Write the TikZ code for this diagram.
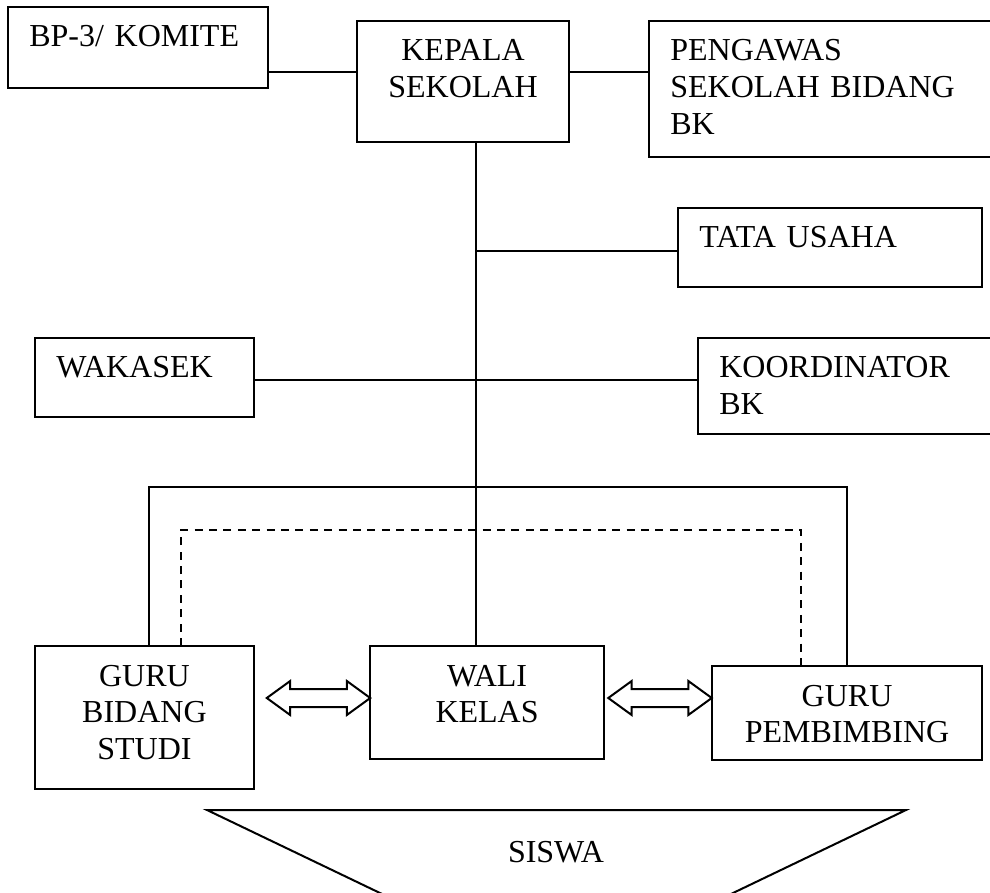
\documentclass[tikz,border=0pt]{standalone}
\usepackage{fontspec}
\setmainfont{Liberation Serif}
\usetikzlibrary{shapes.arrows, calc}

\begin{document}
\begin{tikzpicture}[
  x=0.375pt, y=-0.375pt,
  BX/.style={draw=black, line width=0.75pt, anchor=north west, inner xsep=8pt,
             inner ysep=0pt, outer sep=0pt, text height=15pt,
             font=\fontsize{12}{13.8}\selectfont},
  BL/.style={BX, align=left},
  BC/.style={BX, align=center},
  LN/.style={line width=0.75pt},
  DS/.style={line width=0.75pt, dash pattern=on 3pt off 2.4pt},
  DA/.style={double arrow, draw=black, line width=0.75pt, inner sep=3pt,
             minimum height=38.8pt, double arrow head extend=3pt,
             double arrow tip angle=72}
]
  \useasboundingbox (0,0) rectangle (990,893);

  % top row
  \node[BL, text width=81.5pt, text depth=15.4pt] (bp) at (8,7) {BP-3/ KOMITE};
  \node[BC, text width=63.5pt, text depth=30.4pt] (kep) at (357,21) {KEPALA\\SEKOLAH};
  \node[BL, text width=115.6pt, text depth=36pt] (pgw) at (649,21)
    {PENGAWAS\\SEKOLAH BIDANG\\BK};
  \node[BL, text width=98pt, text depth=14.6pt] (tu) at (678,208) {TATA USAHA};
  \node[BL, text width=66.1pt, text depth=14.6pt] (wks) at (35,338) {WAKASEK};
  \node[BL, text width=97.3pt, text depth=21pt] (kbk) at (698,338) {KOORDINATOR\\BK};

  % bottom row
  \node[BC, text width=66.1pt, text depth=38.6pt] (gbs) at (35,646) {GURU\\BIDANG\\STUDI};
  \node[BC, text width=71.8pt, text depth=27.4pt] (wk) at (370,646) {WALI\\KELAS};
  \node[BC, text width=85.3pt, text depth=20.3pt] (gp) at (712,666) {GURU\\PEMBIMBING};

  \foreach \n/\x in {arL/318.5, arR/660} \node[DA] (\n) at (\x,698) {};

  % siswa
  \draw[LN] (207,810) -- (906,810) -- (708,905) -- (405,905) -- cycle;
  \node[font=\fontsize{12}{13.8}\selectfont, anchor=base] (sw) at (556,862) {SISWA};

  % lines
  \coordinate (jtu) at (476,251);
  \draw[LN] (bp.east |- 0,72) -- (kep.west |- 0,72);
  \draw[LN] (kep.east |- 0,72) -- (pgw.west |- 0,72);
  \draw[LN] (kep.south -| 476,0) -- (wk.north -| 476,0);
  \draw[LN] (jtu) -- (tu.west |- jtu);
  \draw[LN] (wks.east |- 0,380) -- (kbk.west |- 0,380);
  \draw[LN] (gbs.north -| 149,0) |- (gp.north |- 0,487) -- (gp.north);
  \draw[DS] (gbs.north -| 181,0) |- (801,530) -- (gp.north -| 801,0);
\end{tikzpicture}
\end{document}
